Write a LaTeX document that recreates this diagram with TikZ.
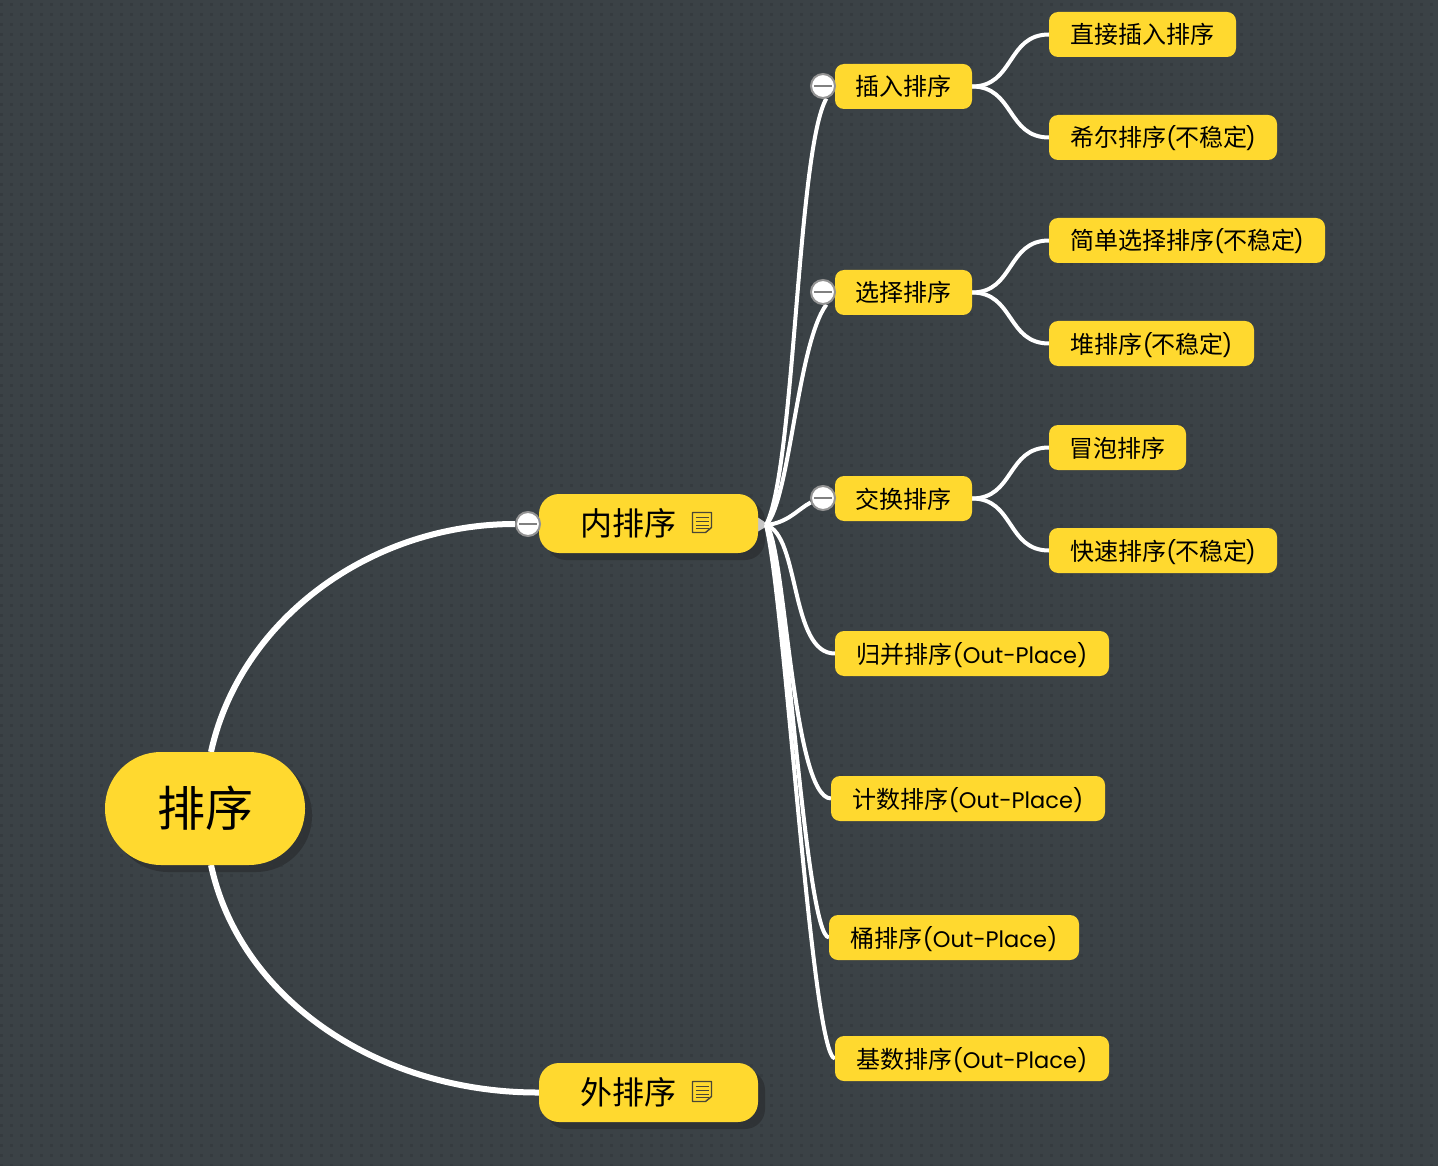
\documentclass[tikz,border=0pt]{standalone}
\usepackage{fontspec}
\usetikzlibrary{backgrounds,calc}
\newfontfamily\cjk{Noto Sans CJK SC}
\newfontfamily\lat{Poppins}
\definecolor{bgc}{HTML}{3B4246}
\definecolor{dotc}{HTML}{353B3F}
\definecolor{shc}{HTML}{2F3336}
\definecolor{yel}{HTML}{FFD92F}
\definecolor{icn}{HTML}{4A4636}
\newcommand{\tl}[2]{{\cjk #1}{\lat\fontsize{22.5}{24}\selectfont(\kern-1.5pt}{\cjk #2}{\lat\fontsize{22.5}{24}\selectfont\kern-1.5pt)}}
\newcommand{\op}[1]{{\cjk #1}{\lat\fontsize{22.5}{24}\selectfont(Out-Place)}}
\tikzset{
  x=1pt,y=-1pt,
  base/.style={fill=yel,text=black,inner sep=0pt,outer sep=0pt,font=\cjk},
  small/.style={base,rounded corners=9pt,minimum height=45pt,text height=21.5pt,text depth=2.5pt,font=\cjk\fontsize{24}{24}\selectfont},
  mid/.style={base,rounded corners=20pt,minimum width=219pt,minimum height=59pt,text height=28pt,text depth=4pt,font=\cjk\fontsize{32}{32}\selectfont},
  rootbox/.style={base,rounded corners=56pt,minimum width=200pt,minimum height=113pt,text height=42pt,text depth=6pt,font=\cjk\fontsize{48}{48}\selectfont},
  thick1/.style={white,line width=6pt},
  thin1/.style={white,line width=4pt},
  coll/.style={circle,fill=white,draw=gray!85,line width=2pt,minimum size=24pt,inner sep=0pt},
  minusl/.style={draw=gray,line width=2pt},
  shadowf/.style={fill=shc},
  iconl/.style={draw=icn,line width=1.4pt}
}
\begin{document}
\begin{tikzpicture}
\useasboundingbox (0,0) rectangle (1438,1166);
\node[rootbox] (root) at (205,808.5) {排序};
\node[mid] (nei) at (648.5,523.5) {内排序\hspace{40pt}\mbox{}};
\node[mid] (wai) at (648.5,1092.5) {外排序\hspace{40pt}\mbox{}};
\node[small,minimum width=137pt] (cr) at (903.5,86.5) {插入排序};
\node[small,minimum width=137pt] (xz) at (903.5,292.5) {选择排序};
\node[small,minimum width=137pt] (jh) at (903.5,498.5) {交换排序};
\node[small,minimum width=274pt] (gb) at (972,653.5) {\op{归并排序}};
\node[small,minimum width=274pt] (js) at (968,798.5) {\op{计数排序}};
\node[small,minimum width=250pt] (tp) at (954,937.5) {\op{桶排序}};
\node[small,minimum width=274pt] (jp) at (972,1058.5) {\op{基数排序}};
\node[small,minimum width=187pt] (zj) at (1142.5,34.5) {直接插入排序};
\node[small,minimum width=228pt] (xe) at (1163,137.5) {\tl{希尔排序}{不稳定}};
\node[small,minimum width=276pt] (jd) at (1187,240.5) {\tl{简单选择排序}{不稳定}};
\node[small,minimum width=205pt] (dp) at (1151.5,343.5) {\tl{堆排序}{不稳定}};
\node[small,minimum width=137pt] (mp) at (1117.5,447.5) {冒泡排序};
\node[small,minimum width=228pt] (ks) at (1163,550.5) {\tl{快速排序}{不稳定}};
\node[coll] (c0) at (528,524) {};
\node[coll] (c1) at (823,86) {};
\node[coll] (c2) at (823,292) {};
\node[coll] (c3) at (823,498) {};
\foreach \c in {c0,c1,c2,c3}{\draw[minusl] ($(\c.center)+(-9,0)$) -- ($(\c.center)+(9,0)$);}
% note icons
\foreach \n in {nei,wai}{
  \draw[iconl,line join=round] ($(\n.center)+(44,-11)$) -- ($(\n.center)+(63,-11)$) -- ($(\n.center)+(63,4)$) -- ($(\n.center)+(57,9)$) -- ($(\n.center)+(44,9)$) -- cycle;
  \foreach \d in {-6,-2,2,5}{\draw[iconl] ($(\n.center)+(47,\d)$) -- ($(\n.center)+(60,\d)$);}
}
\coordinate (hub) at (766,525);
\begin{scope}[on background layer]
\fill[bgc] (0,0) rectangle (1438,1166);
\foreach \yy in {5,15,...,1165}{\draw[dotc,line width=3pt,dash pattern=on 3pt off 7pt] (0,\yy) -- (1438,\yy);}
\foreach \n/\r in {root/56,nei/20,wai/20}{
  \fill[shadowf,rounded corners=\r pt] ($(\n.south west)+(7,7)$) rectangle ($(\n.north east)+(7,7)$);
}
\draw[thick1] ($(root.north)+(6,0)$) .. controls (240,620) and (370,524) .. (c0.west);
\draw[thick1] ($(root.south)+(6,0)$) .. controls (240,1000) and (380,1093) .. (wai.west);
\fill[gray!45] ($(nei.east)+(0,-6)$) -- ($(hub)+(3,0)$) -- ($(nei.east)+(0,8)$) -- cycle;
\draw[thin1] (hub) .. controls (795,470) and (797,150) .. (c1.285);
\draw[thin1] (hub) .. controls (790,500) and (797,345) .. (c2.285);
\draw[thin1] (hub) .. controls (788,523) and (798,509) .. (c3.200);
\draw[thin1] (hub) .. controls (800,535) and (790,654) .. (gb.west);
\draw[thin1] (hub) .. controls (785,540) and (792,798) .. (js.west);
\draw[thin1] (hub) .. controls (785,560) and (805,937) .. (tp.west);
\draw[thin1] (hub) .. controls (785,600) and (812,1058) .. (jp.west);
\foreach \a/\b in {cr/zj,cr/xe,xz/jd,xz/dp,jh/mp,jh/ks}{
  \draw[thin1] (\a.east) .. controls ($(\a.east)!0.55!(\b.west |- \a.east)$) and ($(\b.west)!0.55!(\a.east |- \b.west)$) .. (\b.west);
}
\end{scope}
\end{tikzpicture}
\end{document}
